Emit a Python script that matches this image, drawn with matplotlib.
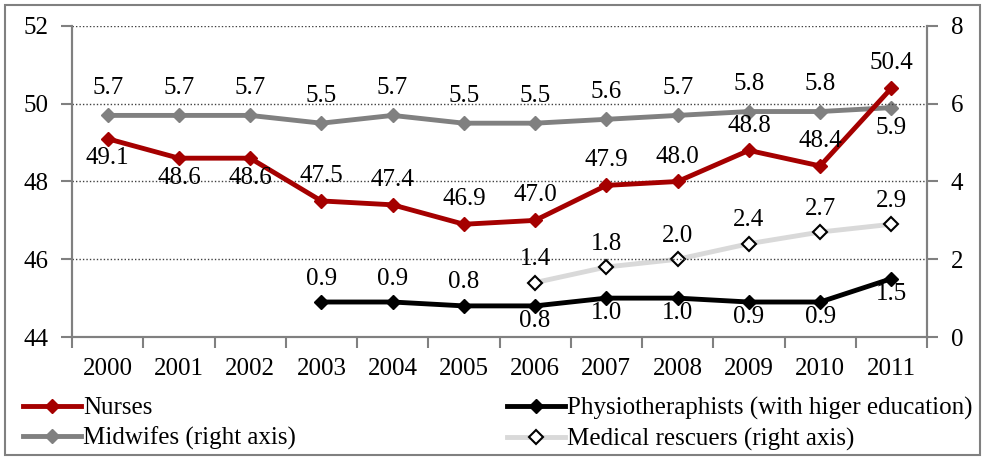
import matplotlib.pyplot as plt
from matplotlib.patches import Rectangle

plt.rcParams['font.family'] = ['Liberation Serif', 'DejaVu Serif']

years = ['2000', '2001', '2002', '2003', '2004', '2005', '2006', '2007', '2008', '2009', '2010', '2011']
nurses = [49.1, 48.6, 48.6, 47.5, 47.4, 46.9, 47.0, 47.9, 48.0, 48.8, 48.4, 50.4]
midwifes = [5.7, 5.7, 5.7, 5.5, 5.7, 5.5, 5.5, 5.6, 5.7, 5.8, 5.8, 5.9]
physio_years = ['2003', '2004', '2005', '2006', '2007', '2008', '2009', '2010', '2011']
physio = [0.9, 0.9, 0.8, 0.8, 1.0, 1.0, 0.9, 0.9, 1.5]
rescue_years = ['2006', '2007', '2008', '2009', '2010', '2011']
rescuers = [1.4, 1.8, 2.0, 2.4, 2.7, 2.9]

# where the data labels sit (a = above, b = below)
nurses_pos = 'bbbaaaaaaaaa'
midwifes_pos = 'aaaaaaaaaaab'
physio_pos = 'aaabbbbbb'
rescue_pos = 'aaaaaa'

FS = 18
RED = '#a50000'
GREY = '#808080'
LIGHT = '#d9d9d9'

fig = plt.figure(figsize=(9.82, 4.57), dpi=100)
ax = fig.add_axes([72/982, 1-337/457, (927-72)/982, (337-26)/457])
ax2 = ax.twinx()
ax.set_zorder(ax2.get_zorder() + 1)
ax.patch.set_visible(False)

xi = {y: i for i, y in enumerate(years)}

def labels(axis, xs, vals, pos, up=12, down=5):
    for x, v, p in zip(xs, vals, pos):
        if p == 'a':
            axis.annotate('%.1f' % v, (xi[x], v), xytext=(0, up), textcoords='offset points',
                          ha='center', va='bottom', fontsize=FS)
        else:
            axis.annotate('%.1f' % v, (xi[x], v), xytext=(0, -down), textcoords='offset points',
                          ha='center', va='top', fontsize=FS)

l1, = ax.plot([xi[y] for y in years], nurses, color=RED, lw=3.5, marker='D', ms=7, label='Nurses')
l2, = ax2.plot([xi[y] for y in years], midwifes, color=GREY, lw=3.5, marker='D', ms=7, label='Midwifes (right axis)')
l3, = ax2.plot([xi[y] for y in physio_years], physio, color='black', lw=3.5, marker='D', ms=7,
               label='Physiotheraphists (with higer education)')
l4, = ax2.plot([xi[y] for y in rescue_years], rescuers, color=LIGHT, lw=3.5, marker='D', ms=7,
               mfc='white', mec='black', mew=1.5, label='Medical rescuers (right axis)')

labels(ax, years, nurses, nurses_pos, up=10, down=6)
labels(ax2, years, midwifes, midwifes_pos, up=12, down=7)
labels(ax2, physio_years, physio, physio_pos, up=9, down=3)
labels(ax2, rescue_years, rescuers, rescue_pos, up=9)

ax.set_xlim(-0.5, len(years) - 0.5)
ax.set_ylim(44, 52)
ax2.set_ylim(0, 8)
ax.set_yticks([44, 46, 48, 50, 52])
ax2.set_yticks([0, 2, 4, 6, 8])
ax.set_xticks(range(len(years)))
ax.set_xticklabels(years)
ax.set_xticks([i - 0.5 for i in range(len(years) + 1)], minor=True)
ax.tick_params(axis='x', which='major', length=0, pad=15, labelsize=FS)
ax.tick_params(axis='x', which='minor', length=8, width=1.5, color=GREY)
ax.tick_params(axis='y', length=8, width=1.5, color=GREY, pad=9, labelsize=FS)
ax2.tick_params(axis='y', length=8, width=1.5, color=GREY, pad=9, labelsize=FS)

for y in [46, 48, 50, 52]:
    ax.axhline(y, color='#404040', lw=1, ls=(0, (1, 1.5)), zorder=0)

for a in (ax, ax2):
    a.spines['top'].set_visible(False)
    for s in ('left', 'right', 'bottom'):
        a.spines[s].set_color(GREY)
        a.spines[s].set_linewidth(1.5)

leg1 = fig.legend(handles=[l1, l2], loc='upper left', bbox_to_anchor=(23/982, 1-397/457),
                  frameon=False, fontsize=FS, borderpad=0, borderaxespad=0, handlelength=2.3,
                  handletextpad=0.1, labelspacing=0.3)
leg2 = fig.legend(handles=[l3, l4], loc='upper left', bbox_to_anchor=(507/982, 1-397/457),
                  frameon=False, fontsize=FS, borderpad=0, borderaxespad=0, handlelength=2.3,
                  handletextpad=0.1, labelspacing=0.3)

fig.patches.append(Rectangle((5/982, 1-455/457), 975/982, 450/457, transform=fig.transFigure,
                             fill=False, edgecolor=GREY, lw=1.5))

fig.savefig('out.png', dpi=100)
